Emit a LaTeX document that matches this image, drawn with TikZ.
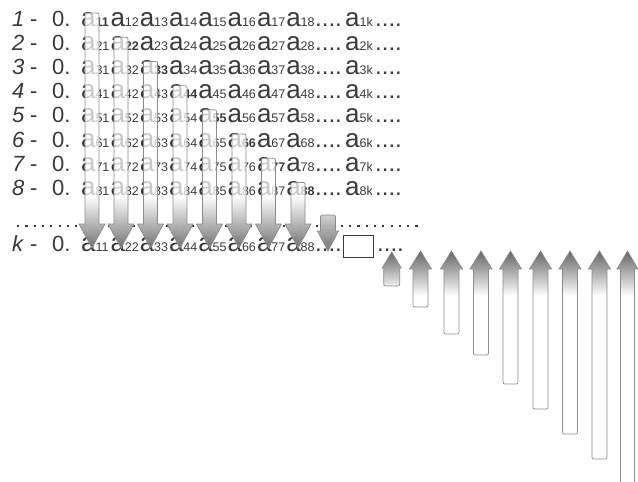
\documentclass[tikz,border=0pt]{standalone}
\usepackage{fontspec}
\setmainfont{Liberation Sans}
\definecolor{txt}{HTML}{3A3A3A}
\definecolor{arrg}{HTML}{666666}
\definecolor{arrline}{HTML}{8C8C8C}
\tikzset{
 lbl/.style={inner sep=0pt, anchor=base west, text=txt, font=\fontsize{22}{22}\selectfont},
 abig/.style={inner sep=0pt, anchor=base west, text=txt, font=\fontsize{26}{26}\selectfont},
 adots/.style={inner sep=0pt, anchor=base west, text=txt, font=\fontsize{24}{24}\selectfont},
 asub/.style={inner sep=0pt, anchor=base west, text=txt, font=\fontsize{12.5}{12.5}\selectfont},
 arrowline/.style={draw=arrline, line width=0.7pt},
 dotline/.style={draw=txt, line width=2.2pt, dash pattern=on 2.2pt off 6.1pt},
 blankbox/.style={draw=txt, line width=1pt, minimum width=30pt, minimum height=22pt, inner sep=0pt}
}
% #1 cx, #2 top, #3 tip, #4 head length, #5 head half width, #6 shaft half width, #7 gradient start
\newcommand\DnArrow[7]{%
 \begin{scope}
 \clip ({#1-#6},{#3-#4}) -- ({#1-#6},{#2+4}) .. controls ({#1-#6},{#2}) .. ({#1-#6+4},{#2}) -- ({#1+#6-4},{#2}) .. controls ({#1+#6},{#2}) .. ({#1+#6},{#2+4}) -- ({#1+#6},{#3-#4}) -- ({#1+#5},{#3-#4}) -- ({#1},{#3}) -- ({#1-#5},{#3-#4}) -- cycle;
 \fill[white, fill opacity=0.72] ({#1-15},{#2}) rectangle ({#1+15},{#3});
 \shade[top color=white, bottom color=arrg, fill opacity=0.9] ({#1-15},{#7}) rectangle ({#1+15},{#3});
 \end{scope}
 \draw[arrowline] ({#1-#6},{#3-#4}) -- ({#1-#6},{#2+4}) .. controls ({#1-#6},{#2}) .. ({#1-#6+4},{#2}) -- ({#1+#6-4},{#2}) .. controls ({#1+#6},{#2}) .. ({#1+#6},{#2+4}) -- ({#1+#6},{#3-#4}) -- ({#1+#5},{#3-#4}) -- ({#1},{#3}) -- ({#1-#5},{#3-#4}) -- cycle;
}
% #1 cx, #2 tip, #3 bottom, #4 head length, #5 head half width, #6 shaft half width, #7 gradient end
\newcommand\UpArrow[7]{%
 \begin{scope}
 \clip ({#1-#6},{#2+#4}) -- ({#1-#6},{#3-4}) .. controls ({#1-#6},{#3}) .. ({#1-#6+4},{#3}) -- ({#1+#6-4},{#3}) .. controls ({#1+#6},{#3}) .. ({#1+#6},{#3-4}) -- ({#1+#6},{#2+#4}) -- ({#1+#5},{#2+#4}) -- ({#1},{#2}) -- ({#1-#5},{#2+#4}) -- cycle;
 \fill[white] ({#1-15},{#2}) rectangle ({#1+15},{#3});
 \shade[top color=arrg, bottom color=white] ({#1-15},{#2}) rectangle ({#1+15},{#7});
 \end{scope}
 \draw[arrowline] ({#1-#6},{#2+#4}) -- ({#1-#6},{#3-4}) .. controls ({#1-#6},{#3}) .. ({#1-#6+4},{#3}) -- ({#1+#6-4},{#3}) .. controls ({#1+#6},{#3}) .. ({#1+#6},{#3-4}) -- ({#1+#6},{#2+#4}) -- ({#1+#5},{#2+#4}) -- ({#1},{#2}) -- ({#1-#5},{#2+#4}) -- cycle;
}
\begin{document}
\begin{tikzpicture}[x=1pt,y=-1pt]
\useasboundingbox (0,0) rectangle (638,482);
% rows 1..8
\foreach \r in {1,...,8} {
 \pgfmathsetmacro\b{26+24.2*(\r-1)}
 \node[lbl] (num\r) at (12,\b) {\itshape\r};
 \node[lbl] (dash\r) at (30,\b) {-};
 \node[lbl] (zero\r) at (52,\b) {0.};
 \foreach \j in {1,...,8} {
  \pgfmathsetmacro\xa{81+29.3*(\j-1)}
  \node[abig] (a\r\j) at (\xa,\b) {a};
  \node[asub] (s\r\j) at ({\xa+14.3},\b) {\ifnum\r=\j\bfseries\fi\r\j};
 }
 \node[adots] (dots\r) at (315,\b) {....};
 \node[abig] (ak\r) at (345,\b) {a};
 \node[asub] (sk\r) at (359.5,\b) {\r k};
 \node[adots] (tail\r) at (375,\b) {....};
}
% dotted separator
\coordinate (dl) at (17,226);
\coordinate (dr) at (420,226);
\draw[dotline] (dl) -- (dr);
% k row
\node[lbl] (numk) at (12,251) {\itshape k};
\node[lbl] (dashk) at (30,251) {-};
\node[lbl] (zerok) at (52,251) {0.};
\foreach \j in {1,...,8} {
 \pgfmathsetmacro\xa{81+29.3*(\j-1)}
 \node[abig] (ka\j) at (\xa,251) {a};
 \node[asub] (ks\j) at ({\xa+14.3},251) {\j\j};
}
\node[adots] (kdots) at (315,251) {....};
\node[blankbox] (box) at (358,246) {};
\node[adots] (ktail) at (377,251) {....};
% downward arrows
\DnArrow{92}{13}{248}{24}{13}{7}{196}
\DnArrow{121}{37.2}{248}{24}{13}{7}{196}
\DnArrow{150.5}{61.4}{248}{24}{13}{7}{196}
\DnArrow{180}{85.6}{248}{24}{13}{7}{196}
\DnArrow{209.5}{109.8}{248}{24}{13}{7}{196}
\DnArrow{239}{134}{248}{24}{13}{7}{196}
\DnArrow{268.5}{158.2}{248}{24}{13}{7}{196}
\DnArrow{298}{182.4}{248}{24}{13}{7}{196}
\DnArrow{328}{215}{251}{20}{10.5}{7.5}{196}
% upward arrows
\UpArrow{391.7}{252}{286}{16}{9.5}{8}{290}
\UpArrow{420.5}{251}{307}{18}{11}{7.5}{296}
\UpArrow{451.5}{251}{334}{18}{11}{7.5}{296}
\UpArrow{481}{251}{355}{18}{11}{7.5}{296}
\UpArrow{510.5}{251}{384}{18}{11}{7.5}{296}
\UpArrow{540.5}{251}{409}{18}{11}{7.5}{296}
\UpArrow{570}{251}{434}{18}{11}{7.5}{296}
\UpArrow{599.5}{251}{459}{18}{11}{7.5}{296}
\UpArrow{627.5}{251}{495}{18}{10.5}{7}{296}
\end{tikzpicture}
\end{document}
